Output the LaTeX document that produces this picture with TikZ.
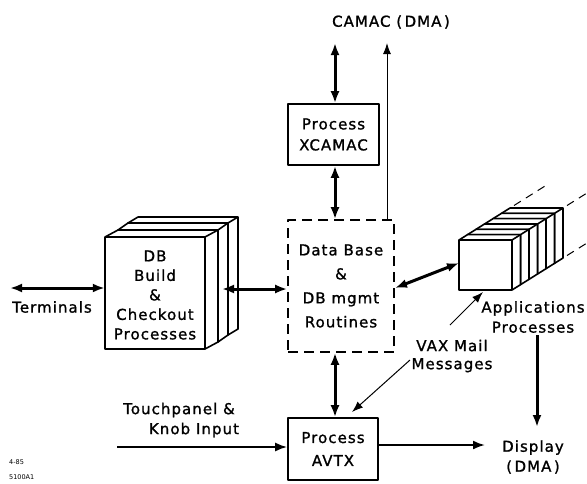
\documentclass[tikz,border=0pt]{standalone}
\usepackage{fontspec}
\setmainfont[LetterSpace=7,FakeBold=1.2]{DejaVu Sans}
\newfontfamily\tinyfont{DejaVu Sans}
\usetikzlibrary{arrows.meta}
\tikzset{
  boxline/.style={line width=1.6pt, line join=round},
  dblarr/.style={line width=3pt, {Latex[length=12pt,width=9pt]}-{Latex[length=12pt,width=9pt]}},
  onearr/.style={line width=3pt, -{Latex[length=12pt,width=9pt]}},
  medarr/.style={line width=2pt, -{Latex[length=12pt,width=9pt]}},
  thinarr/.style={line width=1pt, -{Latex[length=11pt,width=8pt]}},
  lbl/.style={font=\fontsize{15}{20}\selectfont, align=center, inner sep=0pt},
  procbox/.style={draw, boxline, fill=white, align=center, inner sep=0pt},
  persp/.style={line width=1pt, dash pattern=on 8pt off 6pt},
}
\newcommand\mycuboid[6]{%
  \filldraw[boxline, fill=white] (#1,#2) -- ++(#5,#6) -- (#3+#5,#2+#6) -- (#3+#5,#4+#6) -- (#3,#4) -- (#1,#4) -- cycle;
  \draw[boxline] (#1,#2) -- (#3,#2) -- (#3,#4) (#3,#2) -- ++(#5,#6);
}
\begin{document}
\begin{tikzpicture}[x=1pt,y=-1pt]
\useasboundingbox (0,0) rectangle (587,483);

% ---------- DB build stack ----------
\mycuboid{105+23}{237-14}{205+23}{349-14}{10}{-6}
\mycuboid{105+13}{237-7}{205+13}{349-7}{10}{-7}
\mycuboid{105}{237}{205}{349}{13}{-7}
\node[lbl, font=\fontsize{15}{19.5}\selectfont, minimum width=100pt, minimum height=112pt] (dbstack) at (155,295)
  {DB\\Build\\\&\\Checkout\\Processes};

% ---------- Applications stack ----------
\foreach \i in {5,4,...,0} {
  \mycuboid{459+8.5*\i}{240-5.33*\i}{512+8.5*\i}{290-5.33*\i}{8.5}{-5.33}
}
\node[minimum width=53pt, minimum height=50pt, inner sep=0pt] (apps) at (485.5,265) {};
\draw[persp] (514,205.5) -- (546,185.4);
\draw[persp] (567,205.5) -- (587,193);
\draw[persp] (567,255.5) -- (587,243);

% ---------- boxes ----------
\node[procbox, lbl, font=\fontsize{15}{21}\selectfont, minimum width=91pt, minimum height=61pt] (xcamac) at (333.5,134.5) {Process\\XCAMAC};
\node[draw, boxline, dash pattern=on 10pt off 6pt, lbl, font=\fontsize{15}{24}\selectfont, minimum width=106pt, minimum height=132pt] (dbase) at (341,286)
  {Data Base\\\&\\DB mgmt\\Routines};
\node[procbox, lbl, font=\fontsize{15}{23}\selectfont, minimum width=90pt, minimum height=62pt] (avtx) at (333,449) {Process\\AVTX};

% ---------- labels ----------
\node[lbl] (camac) at (391,22) {CAMAC (\,DMA\,)};
\node[lbl] (term) at (52,307) {Terminals};
\node[lbl] (touch1) at (179,410) {Touchpanel \&};
\node[lbl] (touch2) at (194,430) {Knob Input};
\node[lbl] (applbl) at (533,317) {Applications\\Processes};
\node[lbl, font=\fontsize{15}{18}\selectfont] (vax) at (452,356) {VAX Mail\\Messages};
\node[lbl] (disp) at (533,457) {Display\\(\,DMA\,)};
\node[inner sep=0pt, anchor=west, align=left, font=\tinyfont\fontsize{6.5}{15}\selectfont] (code) at (9,469.5) {4-85\\5100A1};

% ---------- free ends ----------
\coordinate (termend) at (10,288);
\coordinate (dbstackR) at (222,289);
\coordinate (camacA) at (335,43);
\coordinate (camacB) at (387,43);
\coordinate (dbtopR) at (387,220);
\coordinate (dbR) at (395,288);
\coordinate (appsL) at (459,263);
\coordinate (touchstart) at (117,447);
\coordinate (dispend) at (485,445);
\coordinate (appsdown) at (537,335);
\coordinate (dispdown) at (537,427);
\coordinate (vaxA) at (450,325);
\coordinate (vaxAtip) at (483,292);
\coordinate (vaxB) at (410,360);
\coordinate (vaxBtip) at (352,412);

% ---------- connectors ----------
\draw[dblarr] (termend) -- (termend -| dbstack.west);
\draw[dblarr] (dbstackR) -- (dbstackR -| dbase.west);
\draw[dblarr] (xcamac.north -| camacA) -- (camacA);
\draw[dblarr] (xcamac.south -| camacA) -- (dbase.north -| camacA);
\draw[thinarr] (dbtopR) -- (camacB);
\draw[dblarr] (dbR) -- (appsL);
\draw[dblarr] (dbase.south -| camacA) -- (avtx.north -| camacA);
\draw[medarr] (touchstart) -- (touchstart -| avtx.west);
\draw[medarr] (avtx.east |- dispend) -- (dispend);
\draw[onearr] (appsdown) -- (dispdown);
\draw[thinarr] (vaxA) -- (vaxAtip);
\draw[thinarr] (vaxB) -- (vaxBtip);
\end{tikzpicture}
\end{document}
